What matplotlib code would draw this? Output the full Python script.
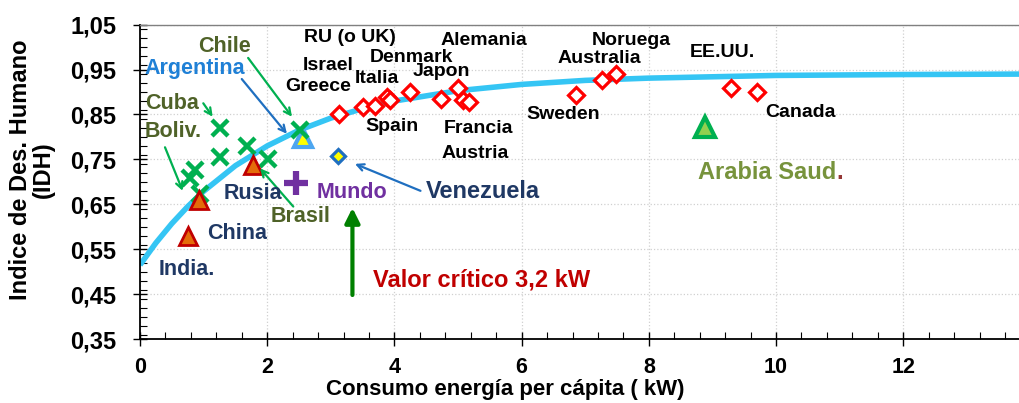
import numpy as np
import matplotlib
matplotlib.use('Agg')
import matplotlib.pyplot as plt
from matplotlib.ticker import MultipleLocator

plt.rcParams['font.family'] = ['Liberation Sans', 'DejaVu Sans']
plt.rcParams['font.weight'] = 'bold'

# trend curve
curve_x = [0, 0.25, 0.5, 0.75, 1, 1.5, 2, 2.5, 3, 3.5, 4, 5, 6, 7, 8, 10, 12, 13.82]
curve_y = [0.515, 0.564, 0.607, 0.645, 0.679, 0.736, 0.780, 0.815, 0.842, 0.863,
           0.880, 0.903, 0.917, 0.926, 0.931, 0.937, 0.939, 0.940]

# developed countries (red diamonds)
dev_x = [3.13, 3.51, 3.69, 3.88, 3.93, 4.24, 4.74, 5.00, 5.08, 5.17, 6.85, 7.26, 7.49, 9.29, 9.70]
dev_y = [0.851, 0.866, 0.869, 0.888, 0.882, 0.899, 0.885, 0.908, 0.882, 0.878, 0.893, 0.927, 0.940, 0.908, 0.899]

# latin america (green crosses)
lat_x = [1.26, 1.26, 0.865, 0.786, 0.943, 1.69, 2.01, 2.52]
lat_y = [0.819, 0.756, 0.726, 0.709, 0.674, 0.780, 0.751, 0.815]

# orange triangles: India, China, Rusia
tri_x = [0.93, 0.76, 1.77]
tri_y = [0.660, 0.580, 0.738]

arg_x, arg_y = 2.56, 0.798
ven_x, ven_y = 3.11, 0.758
mun_x, mun_y = 2.45, 0.697
sau_x, sau_y = 8.88, 0.823

y_ticks = [0.35, 0.45, 0.55, 0.65, 0.75, 0.85, 0.95, 1.05]
y_labels = ['0,35', '0,45', '0,55', '0,65', '0,75', '0,85', '0,95', '1,05']
x_ticks = [0, 2, 4, 6, 8, 10, 12]

black_labels = [
    ('RU (o UK)', 3.30, 1.021), ('Israel', 2.956, 0.960), ('Greece', 2.80, 0.912),
    ('Italia', 3.72, 0.930), ('Denmark', 4.26, 0.978), ('Japon', 4.74, 0.945),
    ('Spain', 3.96, 0.823), ('Alemania', 5.40, 1.015), ('Francia', 5.32, 0.818),
    ('Austria', 5.27, 0.763), ('Sweden', 6.66, 0.849), ('Australia', 7.22, 0.975),
    ('Noruega', 7.73, 1.015), ('EE.UU.', 9.15, 0.987), ('Canada', 10.39, 0.854),
]

olive = '#4F6228'
navy = '#1F3864'
color_labels = [
    ('Chile', 1.336, 1.002, olive), ('Argentina', 0.865, 0.953, '#1F80D6'),
    ('Cuba', 0.498, 0.875, olive), ('Boliv.', 0.519, 0.812, olive),
    ('Rusia', 1.777, 0.674, navy), ('Brasil', 2.527, 0.622, olive),
    ('Mundo', 3.33, 0.677, '#7030A0'), ('China', 1.52, 0.584, navy),
    ('India.', 0.734, 0.504, navy),
]

fig = plt.figure(figsize=(10.19, 4.03), dpi=100)
ax = fig.add_axes([140 / 1019, 1 - 339 / 403, 1 - 140 / 1019, (339 - 24.7) / 403])

ax.plot(curve_x, curve_y, color='#35C5F4', lw=4, solid_capstyle='butt', zorder=2)

ax.plot(dev_x, dev_y, 'D', ms=8, mfc='white', mec='#FF0000', mew=2.3, zorder=4)
ax.plot(lat_x, lat_y, 'x', ms=11, mec='#00B050', mew=3.2, zorder=4)
ax.plot(tri_x, tri_y, '^', ms=13, mfc='#E46C0A', mec='#C00000', mew=2, zorder=5)
ax.plot(arg_x, arg_y, '^', ms=13, mfc='#FFFF00', mec='#4DA6F0', mew=3, zorder=3)
ax.plot(ven_x, ven_y, 'D', ms=7.5, mfc='#FFFF00', mec='#1F6FC0', mew=2.3, zorder=4)
ax.plot(mun_x, mun_y, '+', ms=17, mec='#7030A0', mew=4.5, zorder=4)
ax.plot(sau_x, sau_y, '^', ms=15, mfc='#92D050', mec='#00B050', mew=3, zorder=4)

for s, x, y in black_labels:
    ax.text(x, y, s, fontsize=14, fontweight='bold', color='black', ha='center', va='center', zorder=6)
for s, x, y, c in color_labels:
    ax.text(x, y, s, fontsize=15.5, fontweight='bold', color=c, ha='center', va='center', zorder=6)

ax.text(5.39, 0.679, 'Venezuela', fontsize=17, fontweight='bold', color=navy, ha='center', va='center')
ax.text(5.37, 0.482, 'Valor crítico 3,2 kW', fontsize=17, fontweight='bold', color='#C00000',
        ha='center', va='center')
t = ax.text(8.77, 0.721, 'Arabia Saud', fontsize=17, fontweight='bold', color='#77933C',
            ha='left', va='center')
ax.annotate('.', xy=(1, 0), xycoords=t, fontsize=17, fontweight='bold', color='#953735',
            ha='left', va='bottom')

# arrows
def arrow(tail, head, color, lw=1.6, style='->', ms=12):
    ax.annotate('', xy=head, xytext=tail,
                arrowprops=dict(arrowstyle=style, color=color, lw=lw, mutation_scale=ms,
                                shrinkA=0, shrinkB=0), zorder=5)

arrow((1.70, 0.976), (2.39, 0.845), '#00B050')
arrow((1.60, 0.929), (2.31, 0.807), '#1F6FC0')
arrow((0.995, 0.875), (1.143, 0.845), '#00B050')
arrow((0.393, 0.777), (0.671, 0.680), '#00B050')
arrow((2.41, 0.645), (1.887, 0.730), '#00B050')
arrow((4.41, 0.680), (3.38, 0.740), '#1F6FC0')
arrow((3.34, 0.448), (3.34, 0.642), '#008000', lw=3, style='-|>', ms=22)

ax.set_xlim(0, 13.82)
ax.set_ylim(0.35, 1.05)
ax.set_xticks(x_ticks)
ax.set_xticklabels([str(v) for v in x_ticks])
ax.set_yticks(y_ticks)
ax.set_yticklabels(y_labels)
ax.xaxis.set_minor_locator(MultipleLocator(0.4))
ax.yaxis.set_minor_locator(MultipleLocator(0.02))
ax.tick_params(which='major', direction='inout', length=10, width=1, labelsize=15.5)
ax.tick_params(axis='x', which='major', pad=8)
ax.tick_params(axis='y', which='major', pad=12, labelsize=17)
ax.tick_params(which='minor', direction='in', length=5, width=0.8)
ax.tick_params(top=False, right=False, which='both')
for lab in ax.get_xticklabels() + ax.get_yticklabels():
    lab.set_fontweight('bold')

ax.grid(True, which='major', color='#D0D0D0', ls=':', lw=0.9)
ax.set_axisbelow(True)
ax.spines['right'].set_visible(False)
ax.spines['top'].set_color('#808080')
ax.spines['top'].set_linewidth(1)
ax.spines['left'].set_linewidth(1.3)
ax.spines['bottom'].set_linewidth(1.3)

fig.text(505 / 1019, 1 - 390 / 403, 'Consumo energía per cápita ( kW)', fontsize=16,
         fontweight='bold', ha='center', va='center')
fig.text(32 / 1019, 1 - 170 / 403, 'Indice de Des. Humano\n(IDH)', fontsize=17,
         fontweight='bold', ha='center', va='center', rotation=90, multialignment='center',
         linespacing=0.95)

fig.savefig('out.png', dpi=100)
